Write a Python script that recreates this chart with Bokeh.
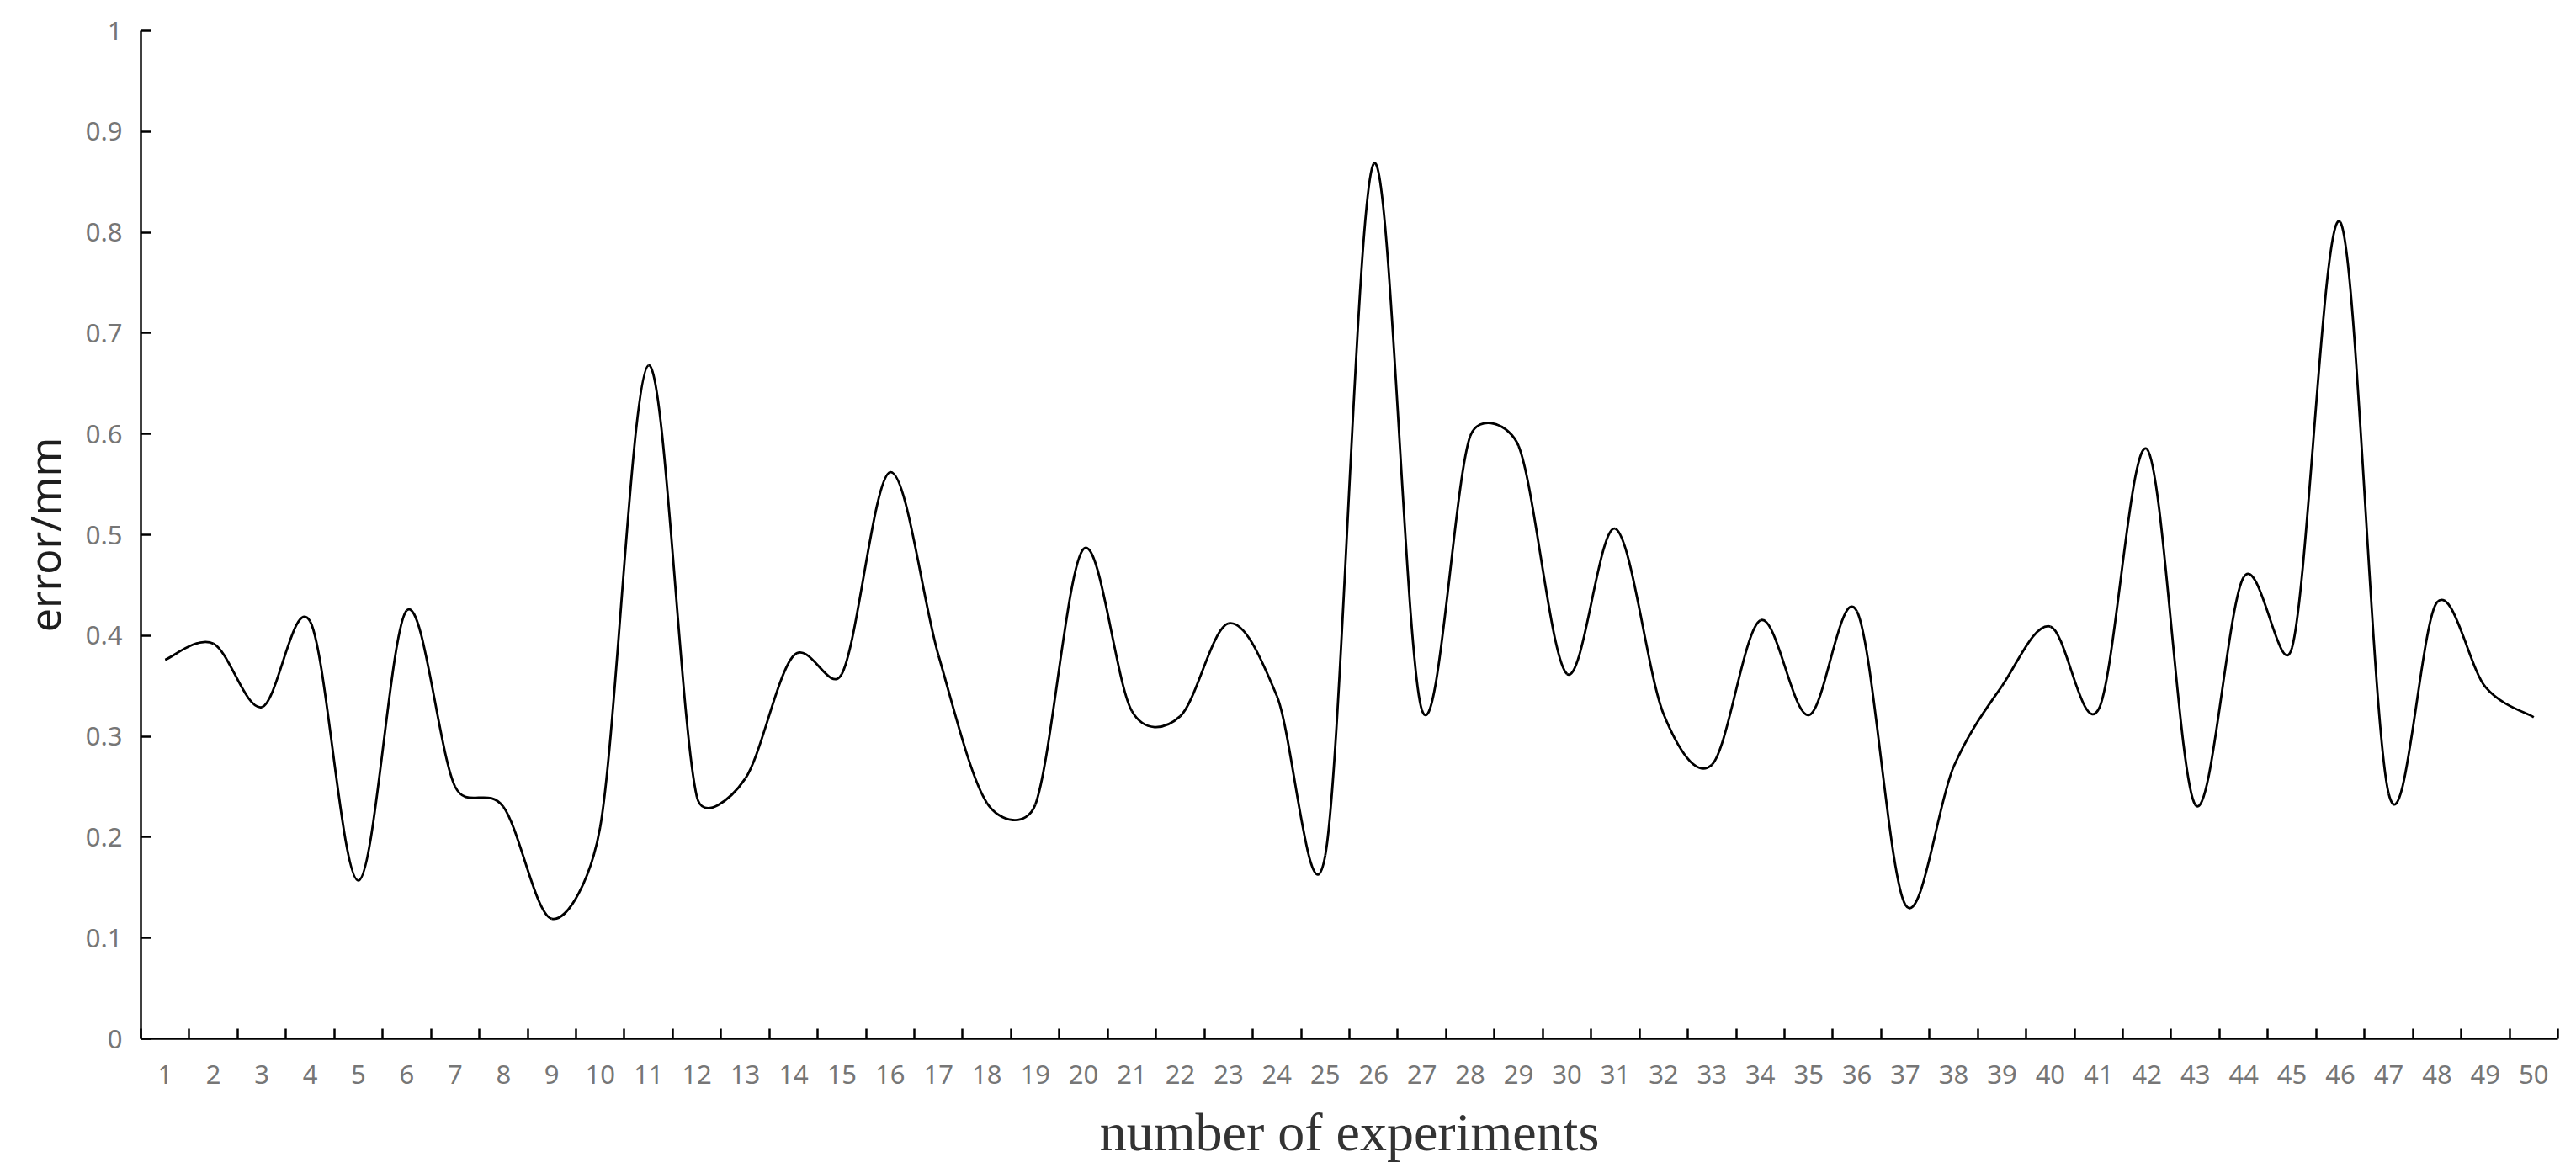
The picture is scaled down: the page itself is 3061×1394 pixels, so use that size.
import numpy as np
from bokeh.plotting import figure
from bokeh.models import Range1d, FixedTicker
from bokeh.embed import file_html
from bokeh.resources import INLINE

# ---- data ----
experiments = list(range(1, 51))
error_mm = [0.376, 0.392, 0.329, 0.414, 0.157, 0.425, 0.250, 0.230, 0.119, 0.210,
            0.668, 0.240, 0.258, 0.380, 0.362, 0.562, 0.380, 0.234, 0.232, 0.486,
            0.325, 0.320, 0.412, 0.340, 0.182, 0.868, 0.326, 0.598, 0.588, 0.362,
            0.506, 0.322, 0.272, 0.415, 0.321, 0.424, 0.133, 0.270, 0.350, 0.409,
            0.327, 0.585, 0.232, 0.458, 0.388, 0.810, 0.243, 0.433, 0.349, 0.319]
y_ticks = [0.0, 0.1, 0.2, 0.3, 0.4, 0.5, 0.6, 0.7, 0.8, 0.9, 1.0]
y_tick_labels = ["0", "0.1", "0.2", "0.3", "0.4", "0.5", "0.6", "0.7", "0.8", "0.9", "1"]
x_title = "number of experiments"
y_title = "error/mm"

FRAME_W, FRAME_H = 2872, 1198
X_START, X_END = 0.5, 50.5
Y_START, Y_END = 0.0, 1.0

# ---- Excel-style smoothed line: Bezier segments, control arms capped ----
x = np.array(experiments, dtype=float)
y = np.array(error_mm, dtype=float)
sx = FRAME_W / (X_END - X_START)
sy = FRAME_H / (Y_END - Y_START)


def dist(ax, ay, bx, by):
    return np.hypot((bx - ax) * sx, (by - ay) * sy)


seg = {"x0": [], "y0": [], "x1": [], "y1": [], "cx0": [], "cy0": [], "cx1": [], "cy1": []}
n = len(x)
for i in range(n - 1):
    i0 = max(i - 1, 0)
    i3 = min(i + 2, n - 1)
    p0 = (x[i0], y[i0]); p1 = (x[i], y[i]); p2 = (x[i + 1], y[i + 1]); p3 = (x[i3], y[i3])
    d02 = dist(*p0, *p2)
    d12 = dist(*p1, *p2)
    d13 = dist(*p1, *p3)
    f1 = 1.0 / 6.0 if d02 / 6.0 < d12 / 2.0 else d12 / (2.0 * d02)
    f2 = 1.0 / 6.0 if d13 / 6.0 < d12 / 2.0 else d12 / (2.0 * d13)
    seg["x0"].append(p1[0]); seg["y0"].append(p1[1])
    seg["x1"].append(p2[0]); seg["y1"].append(p2[1])
    seg["cx0"].append(p1[0] + (p2[0] - p0[0]) * f1)
    seg["cy0"].append(p1[1] + (p2[1] - p0[1]) * f1)
    seg["cx1"].append(p2[0] - (p3[0] - p1[0]) * f2)
    seg["cy1"].append(p2[1] - (p3[1] - p1[1]) * f2)

p = figure(frame_width=FRAME_W, frame_height=FRAME_H, output_backend="svg",
           toolbar_location=None,
           x_range=Range1d(X_START, X_END), y_range=Range1d(Y_START, Y_END),
           min_border_left=167, min_border_right=6, min_border_top=36,
           min_border_bottom=144)
p.outline_line_color = None
p.xgrid.visible = False
p.ygrid.visible = False
p.background_fill_color = "white"
p.border_fill_color = "white"

p.bezier(line_color="black", line_width=2.8, **seg)

tick_color = "#767676"

# x axis: labels at category centres, tick marks between categories
xa = p.xaxis[0]
xa.ticker = FixedTicker(ticks=experiments,
                        minor_ticks=[e - 0.5 for e in experiments] + [experiments[-1] + 0.5])
xa.major_tick_in = 0
xa.major_tick_out = 0
xa.minor_tick_in = 12
xa.minor_tick_out = 0
xa.minor_tick_line_color = "black"
xa.minor_tick_line_width = 2.5
xa.axis_line_color = "black"
xa.axis_line_width = 2.5
xa.major_label_text_font = "Noto Sans"
xa.major_label_text_font_size = "31px"
xa.major_label_text_color = tick_color
xa.major_label_standoff = 31
xa.axis_label = x_title
xa.axis_label_text_font = "Liberation Serif"
xa.axis_label_text_font_size = "64px"
xa.axis_label_text_font_style = "normal"
xa.axis_label_text_color = "#333333"
xa.axis_label_standoff = 19

# y axis
ya = p.yaxis[0]
ya.ticker = FixedTicker(ticks=y_ticks, minor_ticks=[])
ya.major_label_overrides = {t: l for t, l in zip(y_ticks, y_tick_labels)}
ya.major_tick_in = 12
ya.major_tick_out = 0
ya.major_tick_line_color = "black"
ya.major_tick_line_width = 2.5
ya.minor_tick_in = 0
ya.minor_tick_out = 0
ya.axis_line_color = "black"
ya.axis_line_width = 2.5
ya.major_label_text_font = "Noto Sans"
ya.major_label_text_font_size = "31px"
ya.major_label_text_color = tick_color
ya.major_label_standoff = 22
ya.axis_label = y_title
ya.axis_label_text_font = "Noto Sans"
ya.axis_label_text_font_size = "50px"
ya.axis_label_text_font_style = "normal"
ya.axis_label_text_color = "#1e1e1e"
ya.axis_label_standoff = 12

open("out.html", "w").write(file_html(p, INLINE))
